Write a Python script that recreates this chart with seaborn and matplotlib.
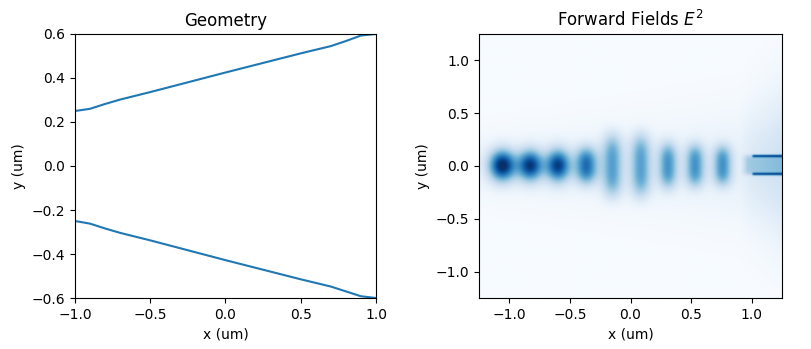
import numpy as np
import pandas as pd
import matplotlib
matplotlib.use("Agg")
import matplotlib.pyplot as plt
import seaborn as sns

# ---- Geometry (taper boundaries) ----
geo_x = [-1.0, -0.9, -0.8, -0.7, -0.5, 0.0, 0.5, 0.7, 0.8, 0.9, 1.0]
geo_top = [0.25, 0.26, 0.282, 0.302, 0.336, 0.425, 0.512, 0.545, 0.568, 0.593, 0.60]
geo_bot = [-0.25, -0.262, -0.284, -0.304, -0.338, -0.428, -0.515, -0.548, -0.570, -0.592, -0.60]

# ---- Field lobes ----
lobe_x = [-1.06, -0.83, -0.60, -0.365, -0.15, 0.085, 0.31, 0.535, 0.762]
lobe_peak = [0.98, 0.90, 0.88, 0.70, 0.50, 0.50, 0.55, 0.55, 0.55]
lobe_sx = [0.075, 0.072, 0.07, 0.065, 0.06, 0.06, 0.056, 0.056, 0.054]
lobe_sy = [0.10, 0.10, 0.105, 0.13, 0.24, 0.24, 0.17, 0.16, 0.15]
lobe_pow = [2, 2, 2, 2.5, 3.5, 3.5, 3, 3, 3]

# faint envelope around the guided light
env_x = [-1.25, -0.5, 0.2, 0.9, 1.0, 1.25]
env_hw = [0.25, 0.32, 0.40, 0.46, 0.50, 0.62]
env_val = [0.07, 0.07, 0.06, 0.08, 0.14, 0.20]

# output port region
port_x0 = 0.95
port_line_y = [-0.08, 0.09]
port_line_val = 0.62
port_fill_val = 0.24

extent = [-1.25, 1.25, -1.25, 1.25]
xs = np.linspace(extent[0], extent[1], 300)
ys = np.linspace(extent[2], extent[3], 300)
X, Y = np.meshgrid(xs, ys)
E2 = np.zeros_like(X)
for cx, pk, sx, sy, pw in zip(lobe_x, lobe_peak, lobe_sx, lobe_sy, lobe_pow):
    gx = np.exp(-((X - cx) ** 2) / (2 * sx ** 2))
    E2 += pk * gx * np.exp(-0.5 * (np.abs(Y) / sy) ** pw)

hw_env = np.interp(X, env_x, env_hw)
val_env = np.interp(X, env_x, env_val)
E2 += val_env * np.exp(-0.5 * (np.abs(Y) / (hw_env / 1.3)) ** 2)

# port
ramp = np.clip((X - (port_x0 - 0.04)) / 0.06, 0, 1)
E2 += port_fill_val * ramp * np.exp(-0.5 * (np.abs(Y - 0.005) / 0.085) ** 6)
for ly in port_line_y:
    E2 += port_line_val * np.clip((X - 1.0) / 0.02, 0, 1) * np.exp(-((Y - ly) ** 2) / (2 * 0.009 ** 2))
E2 = np.clip(E2, 0, 1)

fig = plt.figure(figsize=(8.12, 3.49), dpi=100)
ax1 = fig.add_axes([75 / 812, 51 / 349, 301 / 812, 264 / 349])
ax2 = fig.add_axes([479 / 812, 51 / 349, 303 / 812, 264 / 349])

df_top = pd.DataFrame({"x": geo_x, "y": geo_top})
df_bot = pd.DataFrame({"x": geo_x, "y": geo_bot})
sns.lineplot(data=df_top, x="x", y="y", ax=ax1, color="#1f77b4", lw=1.5)
sns.lineplot(data=df_bot, x="x", y="y", ax=ax1, color="#1f77b4", lw=1.5)
ax1.set_xlim(-1, 1)
ax1.set_ylim(-0.6, 0.6)
ax1.set_xticks([-1.0, -0.5, 0.0, 0.5, 1.0])
ax1.set_yticks([-0.6, -0.4, -0.2, 0.0, 0.2, 0.4, 0.6])
ax1.set_title("Geometry")
ax1.set_xlabel("x (um)")
ax1.set_ylabel("y (um)")

ax2.imshow(E2, extent=extent, origin="lower", aspect="auto", cmap="Blues",
           vmin=0, vmax=1, interpolation="bilinear")
ax2.set_xticks([-1.0, -0.5, 0.0, 0.5, 1.0])
ax2.set_yticks([-1.0, -0.5, 0.0, 0.5, 1.0])
ax2.set_title("Forward Fields $E^2$")
ax2.set_xlabel("x (um)")
ax2.set_ylabel("y (um)")

fig.savefig("out.png", dpi=100)
